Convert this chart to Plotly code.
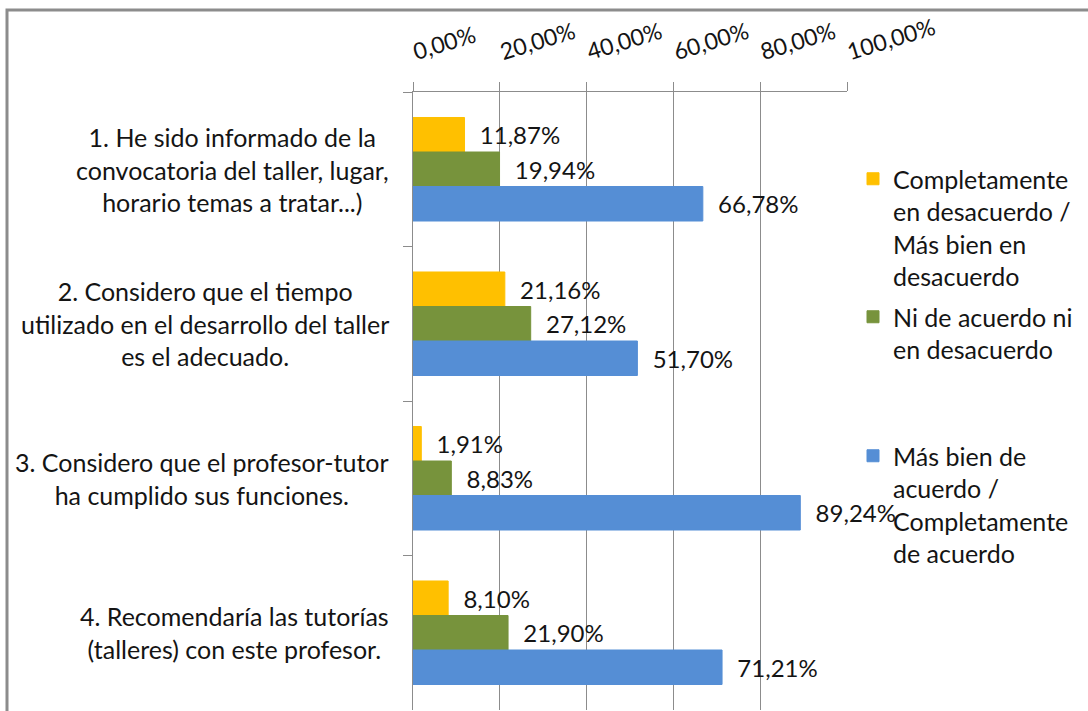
import plotly.graph_objects as go

categories = [
    "1. He sido informado de la<br>convocatoria del taller, lugar,<br>horario temas a tratar...)",
    "2. Considero que el tiempo<br>utilizado en el desarrollo del taller<br>es el adecuado.",
    "3. Considero que el profesor-tutor<br>ha cumplido sus funciones.",
    "4. Recomendaría las tutorías<br>(talleres) con este profesor.",
]
cat_keys = ["q1", "q2", "q3", "q4"]

series_names = [
    "Completamente<br>en desacuerdo /<br>Más bien en<br>desacuerdo",
    "Ni de acuerdo ni<br>en desacuerdo",
    "Más bien de<br>acuerdo /<br>Completamente<br>de acuerdo",
]
desacuerdo = [11.87, 21.16, 1.91, 8.10]
neutral = [19.94, 27.12, 8.83, 21.90]
acuerdo = [66.78, 51.70, 89.24, 71.21]
series_values = [desacuerdo, neutral, acuerdo]
colors = ["#FFC000", "#77933C", "#558ED5"]
legend_ids = ["legend", "legend2", "legend3"]

x_ticks = [0, 20, 40, 60, 80, 100]
x_tick_labels = ["0,00%", "20,00%", "40,00%", "60,00%", "80,00%", "100,00%"]

W, H = 1088, 711
L, R, T, B = 413, 847, 92, 710
FONT = "Lato"
TXT = "#141414"

def px_x(p):
    return (p - L) / (R - L)

def px_y(p):
    return 1 - (p - T) / (B - T)

fig = go.Figure()
for name, vals, col, lg in zip(series_names, series_values, colors, legend_ids):
    fig.add_trace(go.Bar(
        y=cat_keys, x=vals, name=name, orientation="h",
        marker=dict(color=col, line=dict(color=col, width=1)),
        texttemplate="\u00a0\u00a0%{x:.2f}%", textposition="outside",
        constraintext="none", cliponaxis=False,
        textfont=dict(family=FONT, size=24, color=TXT),
        legend=lg,
    ))

for key, lab in zip(cat_keys, categories):
    fig.add_annotation(x=px_x(391), xref="paper", y=key, yref="y",
                       text=lab, showarrow=False, xanchor="right",
                       yanchor="middle", align="center",
                       font=dict(family=FONT, size=25, color=TXT))

legend_tops = [156, 294, 433]
leg_common = dict(font=dict(family=FONT, size=25, color=TXT), valign="top",
                  bgcolor="rgba(0,0,0,0)", xanchor="left", yanchor="top")
fig.update_layout(
    legend=dict(x=px_x(853), y=px_y(legend_tops[0]), **leg_common),
    legend2=dict(x=px_x(853), y=px_y(legend_tops[1]), **leg_common),
    legend3=dict(x=px_x(853), y=px_y(legend_tops[2]), **leg_common),
)

fig.add_shape(type="rect", xref="paper", yref="paper",
              x0=px_x(7), x1=px_x(1200), y0=px_y(800), y1=px_y(10),
              line=dict(color="#8c8c8c", width=3), fillcolor="rgba(0,0,0,0)",
              layer="above")

fig.update_layout(
    width=W, height=H,
    margin=dict(l=L, r=W - R, t=T, b=H - B, pad=0),
    paper_bgcolor="white", plot_bgcolor="white",
    separators=",.",
    barmode="group", bargap=0.33, bargroupgap=0,
    showlegend=True,
    xaxis=dict(side="top", range=[0, 100], tickmode="array",
               tickvals=x_ticks, ticktext=x_tick_labels, tickangle=-17,
               ticklabelstandoff=12,
               showgrid=True, gridcolor="#8c8c8c", gridwidth=1,
               showline=True, linecolor="#8c8c8c", linewidth=1,
               ticks="outside", ticklen=9, tickcolor="#8c8c8c",
               zeroline=False, fixedrange=True,
               tickfont=dict(family=FONT, size=23, color=TXT)),
    yaxis=dict(type="category", categoryorder="array", categoryarray=cat_keys,
               autorange="reversed", showticklabels=False, fixedrange=True,
               tickson="boundaries", ticks="outside", ticklen=9,
               tickcolor="#8c8c8c", showline=True, linecolor="#8c8c8c",
               linewidth=1, showgrid=False, zeroline=False),
)

fig.write_html("out.html", config={"displayModeBar": False},
               post_script="document.body.style.margin='0';")
